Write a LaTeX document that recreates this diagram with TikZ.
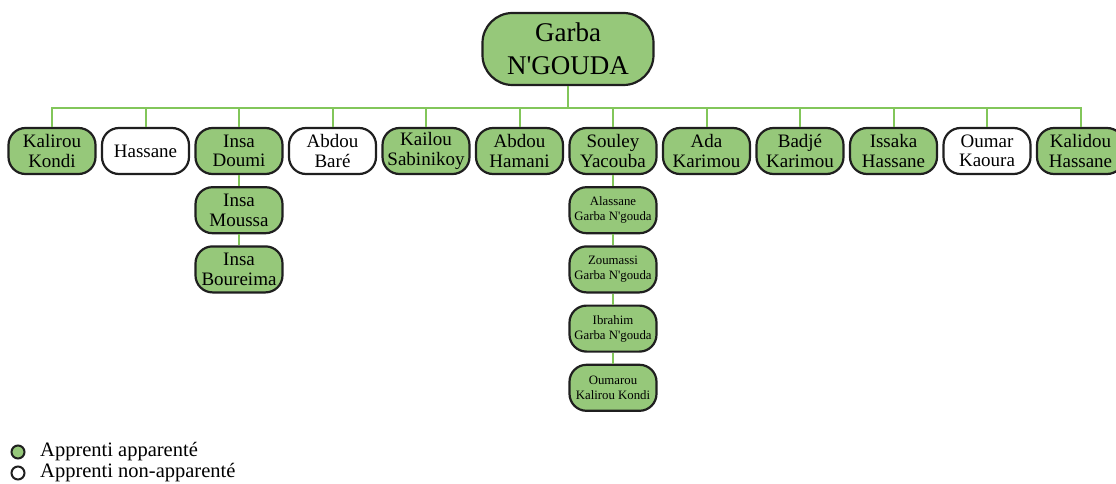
\documentclass[tikz,border=0pt]{standalone}
\usepackage{fontspec}
\setmainfont{Liberation Serif}
\usetikzlibrary{positioning}
\definecolor{vert}{RGB}{150,200,122}
\definecolor{trait}{RGB}{130,198,90}

\begin{document}
\begin{tikzpicture}[x=1pt,y=-1pt,
  boite/.style={draw=black!88,line width=2.2pt,rounded corners=17pt,
    minimum width=87pt,minimum height=46pt,inner sep=1pt,align=center,
    font=\fontsize{19}{19.5}\selectfont},
  app/.style={boite,fill=vert},
  nonapp/.style={boite,fill=white},
  petit/.style={app,font=\fontsize{12.8}{15}\selectfont},
  lien/.style={draw=trait,line width=2pt}]
\pgfmathsetmacro{\ecart}{93.5};
\pgfmathsetmacro{\debut}{52};
\pgfmathsetmacro{\rang}{151};

\useasboundingbox (0,0) rectangle (1116,484);

\node[app,minimum width=171pt,minimum height=72pt,rounded corners=30pt,
  font=\fontsize{27}{33}\selectfont] (G) at (568,49)
  {Garba\\N\textquotesingle GOUDA};

\foreach \nom/\genre [count=\i] in {{Kalirou\\Kondi}/app,Hassane/nonapp,
  {Insa\\Doumi}/app,{Abdou\\Baré}/nonapp,{Kailou\\Sabinikoy}/app,
  {Abdou\\Hamani}/app,{Souley\\Yacouba}/app,{Ada\\Karimou}/app,
  {Badjé\\Karimou}/app,{Issaka\\Hassane}/app,{Oumar\\Kaoura}/nonapp,
  {Kalidou\\Hassane}/app}
  \node[\genre] (E\i) at ({\debut+\ecart*(\i-1)},\rang) {\nom};

% famille Insa
\node[app,below=11pt of E3] (I1) {Insa\\Moussa};
\node[app,below=11pt of I1] (I2) {Insa\\Boureima};

% famille Souley
\node[petit,below=11pt of E7] (S1) {Alassane\\Garba N\textquotesingle gouda};
\node[petit,below=11pt of S1] (S2) {Zoumassi\\Garba N\textquotesingle gouda};
\node[petit,below=11pt of S2] (S3) {Ibrahim\\Garba N\textquotesingle gouda};
\node[petit,below=11pt of S3] (S4) {Oumarou\\Kalirou Kondi};

\coordinate (bus) at (568,108);
\draw[lien] (G.south) -- (bus);
\foreach \i in {1,...,12}
  \draw[lien] (bus) -| (E\i.north);

\draw[lien] (E3) -- (I1);
\draw[lien] (I1) -- (I2);
\draw[lien] (E7) -- (S1);
\draw[lien] (S1) -- (S2);
\draw[lien] (S2) -- (S3);
\draw[lien] (S3) -- (S4);

% legende
\node[circle,draw=black!88,line width=2pt,fill=vert,minimum size=13pt,
  inner sep=0pt] (P1) at (18,452) {};
\node[circle,draw=black!88,line width=2pt,fill=white,minimum size=13pt,
  inner sep=0pt] (P2) at (18,473) {};
\node[anchor=west,inner sep=0pt,font=\fontsize{20.5}{22}\selectfont] (L1)
  at (40,452) {Apprenti apparenté};
\node[anchor=west,inner sep=0pt,font=\fontsize{20.5}{22}\selectfont] (L2)
  at (40,473) {Apprenti non-apparenté};

%\draw[lien] (E1.north) -- (E12.north);
%\fill (bus) circle (2pt);
\end{tikzpicture}
\end{document}
